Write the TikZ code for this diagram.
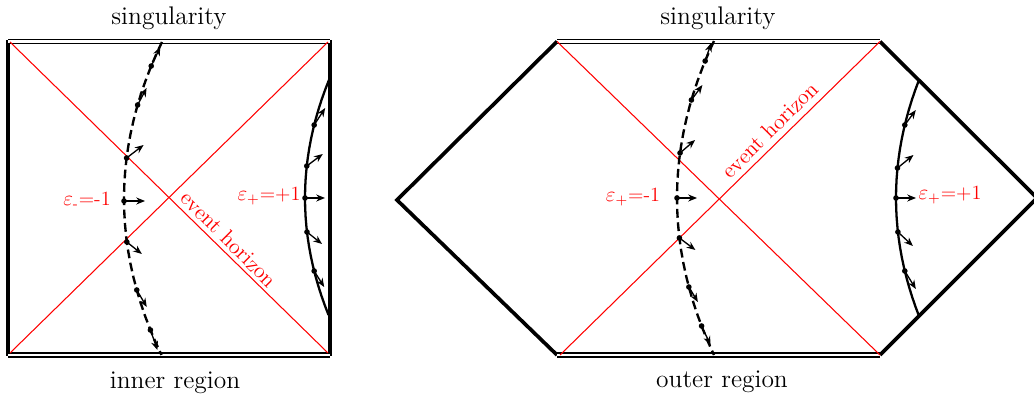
\documentclass[tikz,border=0pt]{standalone}
\usepackage{amsmath, amssymb}
\usepackage{tikz}
\usetikzlibrary{arrows.meta, calc}
\tikzset{
  wall/.style={line width=2.1pt},
  sing/.style={double, line width=0.85pt, double distance=1.3pt},
  horizon/.style={red, line width=0.6pt},
  orbit/.style={line width=1.3pt},
  dashorbit/.style={line width=1.35pt, dash pattern=on 5pt off 2.6pt},
  vec/.style={-{Stealth[length=5pt, width=4pt]}, line width=0.75pt},
  region/.style={font=\fontsize{14.5}{17}\selectfont},
  epslabel/.style={red, font=\fontsize{11.5}{13}\selectfont},
  ehlabel/.style={red, font=\fontsize{12.5}{15}\selectfont},
}

\begin{document}
\begin{tikzpicture}[x=0.02cm, y=-0.02cm]
  \useasboundingbox (0,0) rectangle (1034,398);
  % inner region
  \draw[wall] (8,40) -- (8,356);
  \draw[wall] (330,40) -- (330,356);
  \draw[sing] (8,41.5) -- (330,41.5);
  \draw[sing] (8,355) -- (330,355);
  \draw[horizon] (10,42) -- (328,353);
  \draw[horizon] (10,353) -- (328,42);
  \node[region] (singL) at (169,18) {singularity};
  \node[region] (inner) at (175,383) {inner region};
  \draw[dashorbit] plot[domain=-1.57:1.56, variable=\s] ({124+15.4*\s*\s},{199+100*\s});
  \foreach \s/\dx/\dy in {-1.33/9/-19, -0.94/9/-17, -0.41/17/-13, 0.02/21/0,
                          0.43/15/12, 0.91/10/17, 1.31/7/20} {
    \coordinate (p) at ({124+15.4*\s*\s},{199+100*\s});
    \coordinate (q) at ($(p)+(\dx,\dy)$);
    \fill (p) circle (1.6pt);
    \draw[vec] (p) -- (q);
  }
  \draw[orbit] plot[domain=-1.18:1.17, variable=\s] ({305+17.2*\s*\s},{198+100*\s});
  \foreach \s/\dx/\dy in {-0.73/11/-17, -0.32/16/-12, 0/20/0, 0.34/15/12, 0.73/10/16} {
    \coordinate (p) at ({305+17.2*\s*\s},{198+100*\s});
    \coordinate (q) at ($(p)+(\dx,\dy)$);
    \fill (p) circle (1.6pt);
    \draw[vec] (p) -- (q);
  }
  \node[epslabel] (epsLm) at (87,200) {$\varepsilon_{\text{-}}$=-1};
  \node[epslabel] (epsLp) at (269,196) {$\varepsilon_{\text{+}}$=+1};
  \node[ehlabel, rotate=-45] (ehL) at (229,239) {event horizon};

  % outer region
  \draw[wall] (557,41.5) -- (397,200) -- (557,355);
  \draw[wall] (880,41.5) -- (1037,198) -- (880,355);
  \draw[sing] (557,41.5) -- (880,41.5);
  \draw[sing] (557,355) -- (880,355);
  \draw[horizon] (557,41.5) -- (880,355);
  \draw[horizon] (560,355) -- (880,41.5);
  \node[region] (singR) at (718,18) {singularity};
  \node[region] (outer) at (722,382) {outer region};
  \draw[dashorbit] plot[domain=-1.57:1.57, variable=\s] ({677+15*\s*\s},{198+100*\s});
  \foreach \s/\dx/\dy in {-1.37/6/-18, -0.98/11/-15, -0.45/15/-13, 0/20/0,
                          0.40/16/12, 0.89/9/15, 1.28/9/19} {
    \coordinate (p) at ({677+15*\s*\s},{198+100*\s});
    \coordinate (q) at ($(p)+(\dx,\dy)$);
    \fill (p) circle (1.6pt);
    \draw[vec] (p) -- (q);
  }
  \draw[orbit] plot[domain=-1.18:1.19, variable=\s] ({896+16.5*\s*\s},{198+100*\s});
  \foreach \s/\dx/\dy in {-0.73/11/-15, -0.30/16/-13, 0/20/0, 0.34/15/14, 0.73/11/18} {
    \coordinate (p) at ({896+16.5*\s*\s},{198+100*\s});
    \coordinate (q) at ($(p)+(\dx,\dy)$);
    \fill (p) circle (1.6pt);
    \draw[vec] (p) -- (q);
  }
  \node[epslabel] (epsRm) at (633,197) {$\varepsilon_{\text{+}}$=-1};
  \node[epslabel] (epsRp) at (950,195) {$\varepsilon_{\text{+}}$=+1};
  \node[ehlabel, rotate=45] (ehR) at (770,130) {event horizon};
\end{tikzpicture}
\end{document}
